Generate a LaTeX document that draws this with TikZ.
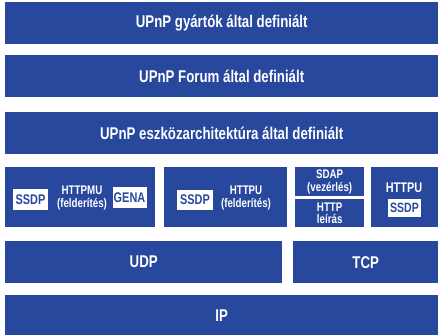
\documentclass[tikz,border=0pt]{standalone}
\usepackage{fontspec}
\setmainfont{Liberation Sans}[FakeStretch=0.78]
\usetikzlibrary{positioning}
\definecolor{upnpBlue}{RGB}{40,72,158}

\begin{document}
\begin{tikzpicture}[x=1pt, y=-1pt,
    layer/.style={fill=upnpBlue, text=white, anchor=north west, inner sep=0pt,
                  font=\bfseries\fontsize{17}{18}\selectfont},
    proto/.style={text=white, align=center, inner sep=0pt,
                  font=\bfseries\fontsize{12.5}{12.5}\selectfont},
    tag/.style={fill=white, text=upnpBlue, inner sep=0pt,
                font=\bfseries\fontsize{14}{14}\selectfont}]
  \useasboundingbox (0,0) rectangle (438,335);

  % upper layers
  \node[layer, minimum width=433pt, minimum height=42pt] (vendor) at (5,2)
    {UPnP gyártók által definiált};
  \node[layer, minimum width=433pt, minimum height=42pt] (forum) at (5,55)
    {UPnP Forum által definiált};
  \node[layer, minimum width=433pt, minimum height=42pt] (arch) at (5,112)
    {UPnP eszközarchitektúra által definiált};

  % protocol row
  \node[layer, minimum width=150pt, minimum height=60pt] (mu) at (5,167) {};
  \node[layer, minimum width=123pt, minimum height=60pt] (u) at (164,167) {};
  \node[layer, minimum width=69pt, minimum height=29pt] (sdap) at (295,167) {};
  \node[layer, minimum width=69pt, minimum height=28pt] (http) at (295,199) {};
  \node[layer, minimum width=67pt, minimum height=60pt] (tcpu) at (371,167) {};

  \node[tag, minimum width=35pt, minimum height=21pt] (ssdpA) at (30.5,199.5) {SSDP};
  \node[proto] (httpmu) at (82,198) {HTTPMU\\(felderítés)};
  \node[tag, minimum width=34pt, minimum height=21pt] (gena) at (129.5,197.5) {GENA};

  \node[tag, minimum width=36pt, minimum height=20pt] (ssdpB) at (195,200) {SSDP};
  \node[proto] (httpu) at (246,198) {HTTPU\\(felderítés)};

  \node[proto] at (sdap.center) {SDAP\\(vezérlés)};
  \node[proto] at (http.center) {HTTP\\leírás};

  \node[proto, font=\bfseries\fontsize{14}{14}\selectfont] (httpuB) at (404,187.5) {HTTPU};
  \node[tag, minimum width=33pt, minimum height=18pt,
        font=\bfseries\fontsize{13.5}{13.5}\selectfont] (ssdpC) at (404.5,208) {SSDP};

  % transport and network
  \node[layer, minimum width=277pt, minimum height=42pt] (udp) at (5,241) {UDP};
  \node[layer, minimum width=145pt, minimum height=42pt] (tcp) at (293,241) {TCP};
  \node[layer, minimum width=433pt, minimum height=40pt] (ip) at (5,295) {IP};
\end{tikzpicture}
\end{document}
